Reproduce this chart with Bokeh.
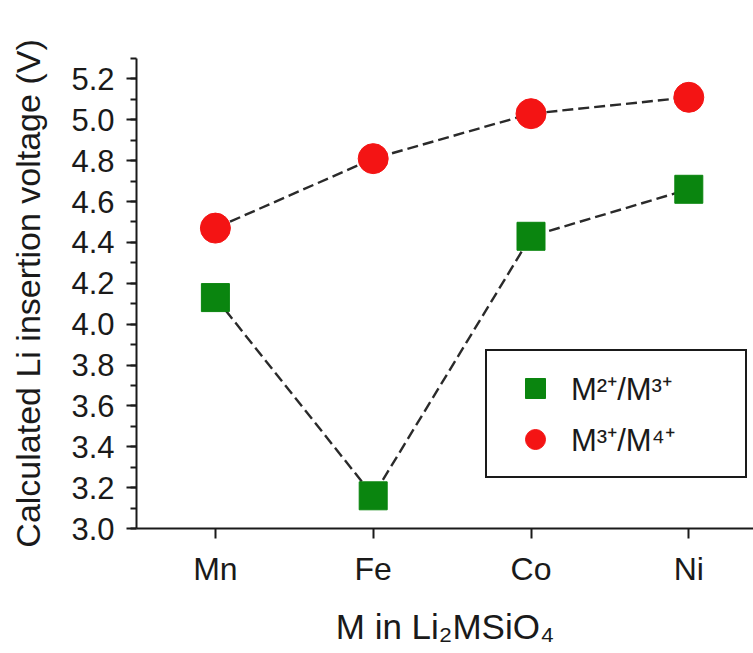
from bokeh.plotting import figure
from bokeh.models import (Legend, LegendItem, FixedTicker, SingleIntervalTicker,
                          Range1d, PrintfTickFormatter)
from bokeh.embed import file_html
from bokeh.resources import INLINE

# ---- data ----
metals = ["Mn", "Fe", "Co", "Ni"]
v_m2_m3 = [4.13, 3.16, 4.43, 4.66]   # green squares
v_m3_m4 = [4.47, 4.81, 5.03, 5.11]   # red circles
label_m2_m3 = "M²⁺/M³⁺"
label_m3_m4 = "M³⁺/M⁴⁺"
x_title = "M in Li₂MSiO₄"
y_title = "Calculated Li insertion voltage (V)"

xs = list(range(len(metals)))

FONT = "Liberation Sans"
INK = "#1a1a1a"

p = figure(width=753, height=653,
           x_range=Range1d(-0.5, 3.41), y_range=Range1d(3.0, 5.3),
           output_backend="svg", toolbar_location=None,
           min_border_left=136, min_border_right=0,
           min_border_top=58, min_border_bottom=125)
p.outline_line_color = None
p.xgrid.visible = False
p.ygrid.visible = False
p.background_fill_color = "white"
p.border_fill_color = "white"

# dashed connecting lines
p.line(xs, v_m3_m4, line_color="#2a2a2a", line_width=2.4, line_dash="11 5")
p.line(xs, v_m2_m3, line_color="#2a2a2a", line_width=2.4, line_dash="11 5")

sq = p.scatter(xs, v_m2_m3, marker="square", size=28,
               fill_color="#0a850f", line_color="#0a850f")
ci = p.scatter(xs, v_m3_m4, marker="circle", size=30,
               fill_color="#f41414", line_color="#f41414")

# axes
xa = p.xaxis[0]
xa.ticker = FixedTicker(ticks=xs)
xa.major_label_overrides = {i: m for i, m in zip(xs, metals)}
xa.minor_tick_line_color = None
ya = p.yaxis[0]
ya.ticker = SingleIntervalTicker(interval=0.2, num_minor_ticks=2)
ya.formatter = PrintfTickFormatter(format="%.1f")

for ax in (xa, ya):
    ax.axis_line_color = INK
    ax.axis_line_width = 2
    ax.major_tick_line_color = INK
    ax.major_tick_line_width = 2
    ax.minor_tick_line_width = 2
    ax.major_tick_in = 0
    ax.major_tick_out = 10
    ax.minor_tick_in = 0
    ax.minor_tick_out = 6
    ax.major_label_text_font = FONT
    ax.major_label_text_color = INK
    ax.axis_label_text_font = FONT
    ax.axis_label_text_color = INK
    ax.axis_label_text_font_style = "normal"

ya.minor_tick_line_color = INK
xa.major_label_text_font_size = "32px"
ya.major_label_text_font_size = "31px"
xa.major_label_standoff = 12
ya.major_label_standoff = 12
xa.axis_label = x_title
xa.axis_label_text_font_size = "35px"
xa.axis_label_standoff = 17
ya.axis_label = y_title
ya.axis_label_text_font_size = "34px"
ya.axis_label_standoff = 21
try:
    ya.axis_label_align = "left"
except Exception:
    pass

legend = Legend(items=[LegendItem(label=label_m2_m3, renderers=[sq]),
                       LegendItem(label=label_m3_m4, renderers=[ci])],
                location=(349, 50), orientation="vertical",
                padding=12, spacing=1, margin=0,
                glyph_width=72, glyph_height=50,
                label_standoff=0, label_width=162,
                label_text_font=FONT, label_text_font_size="31px",
                label_text_color=INK,
                border_line_color=INK, border_line_width=2, border_line_alpha=1,
                background_fill_color="white", background_fill_alpha=1)
p.add_layout(legend, "center")

open("out.html", "w").write(file_html(p, INLINE))
